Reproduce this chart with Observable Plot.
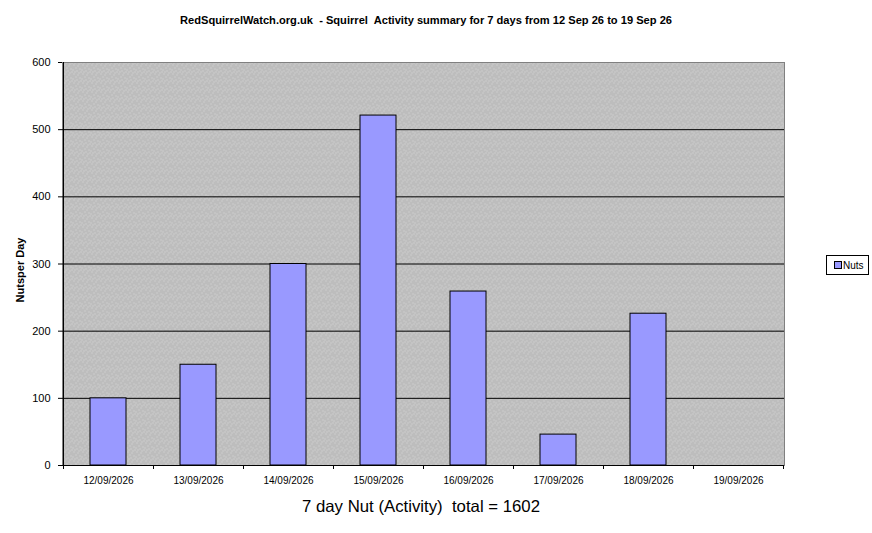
<!DOCTYPE html>
<html>
<head>
<meta charset="utf-8">
<script src="https://cdn.jsdelivr.net/npm/d3@7"></script>
<script src="https://cdn.jsdelivr.net/npm/@observablehq/plot@0.6"></script>
<style>
  html, body { margin: 0; padding: 0; background: #fff; }
  #chart { position: relative; width: 872px; height: 533px; }
  svg { font-family: "Liberation Sans", Arial, sans-serif; }
</style>
</head>
<body>
<div id="chart"></div>
<script>
const dates = ["12/09/2026","13/09/2026","14/09/2026","15/09/2026","16/09/2026","17/09/2026","18/09/2026","19/09/2026"];
const nuts = [100, 150, 300, 521, 259, 46, 226, 0];
const yTicks = [0, 100, 200, 300, 400, 500, 600];
const gridTicks = [100, 200, 300, 400, 500];
const titleText = "RedSquirrelWatch.org.uk  - Squirrel  Activity summary for 7 days from 12 Sep 26 to 19 Sep 26";
const yLabel = "Nutsper Day";
const seriesName = "Nuts";
const total = d3.sum(nuts);
const xLabel = `7 day Nut (Activity)  total = ${total}`;

const data = dates.map((d, i) => ({date: d, value: nuts[i]}));

const W = 872, H = 533;
const base = {
  width: W, height: H,
  marginLeft: 62, marginRight: 88, marginTop: 62, marginBottom: 68,
  style: {fontFamily: "Liberation Sans, Arial, sans-serif", fontSize: "11px", background: "#fff", color: "#000"},
  x: {type: "band", domain: dates, paddingInner: 0.6, paddingOuter: 0.3, label: null},
  y: {type: "linear", domain: [0, 600], label: null}
};

// first pass to learn band step
const probe = Plot.plot({...base, marks: [Plot.barY(data, {x: "date", y: "value"})]});
const step = probe.scale("x").step;

const chart = Plot.plot({
  ...base,
  marks: [
    Plot.frame({fill: "url(#stipple)", stroke: "#808080"}),
    Plot.ruleY(gridTicks, {stroke: "#000", strokeWidth: 1}),
    Plot.barY(data, {x: "date", y: "value", fill: "#9999FF", stroke: "#000", strokeWidth: 1}),
    Plot.axisX({tickSize: 0, tickPadding: 11, fontSize: 10, fill: "#000"}),
    Plot.axisY({ticks: yTicks, tickSize: 4, tickPadding: 8, fontSize: 11, fill: "#000", stroke: "#000"}),
    Plot.ruleY([0], {stroke: "#000"}),
    // category boundary ticks hanging below the axis
    Plot.ruleX(dates, {x: d => d, dx: -step / 2, y1: 0, y2: 0, insetBottom: -4, stroke: "#000"}),
    Plot.ruleX([dates[dates.length - 1]], {x: d => d, dx: step / 2, y1: 0, y2: 0, insetBottom: -4, stroke: "#000"}),
    // left axis line
    Plot.ruleX([dates[0]], {x: d => d, dx: -step / 2, stroke: "#000"})
  ]
});

const svg = d3.select(chart);
// stipple pattern
const defs = svg.insert("defs", ":first-child");
const pat = defs.append("pattern").attr("id", "stipple").attr("patternUnits", "userSpaceOnUse")
  .attr("width", 9).attr("height", 9);
pat.append("rect").attr("width", 9).attr("height", 9).attr("fill", "#bdbdbd");
[[1,1],[5,2],[3,4],[7,5],[0,6],[4,7],[8,8],[6,0],[2,8]].forEach(([px,py]) =>
  pat.append("rect").attr("x", px).attr("y", py).attr("width", 1).attr("height", 1).attr("fill", "#d8d8d8"));

// Title
svg.append("text").attr("x", 426).attr("y", 24).attr("text-anchor", "middle")
  .attr("font-weight", "bold").attr("font-size", 11)
  .attr("textLength", 492).attr("lengthAdjust", "spacingAndGlyphs").text(titleText);

// Y label
svg.append("text").attr("transform", "translate(24,270) rotate(-90)").attr("text-anchor", "middle")
  .attr("font-weight", "bold").attr("font-size", 11).text(yLabel);

// X label
svg.append("text").attr("x", 421).attr("y", 512).attr("text-anchor", "middle")
  .attr("font-size", 16.5).attr("textLength", 238).attr("lengthAdjust", "spacingAndGlyphs").text(xLabel);

// Legend
const lg = svg.append("g");
lg.append("rect").attr("x", 826.5).attr("y", 255.5).attr("width", 42).attr("height", 19)
  .attr("fill", "#fff").attr("stroke", "#000");
lg.append("rect").attr("x", 834.5).attr("y", 261.5).attr("width", 7).attr("height", 7)
  .attr("fill", "#9999FF").attr("stroke", "#000");
lg.append("text").attr("x", 843).attr("y", 269).attr("text-anchor", "start")
  .attr("font-size", 10).text(seriesName);

document.getElementById("chart").appendChild(chart);
</script>
</body>
</html>
